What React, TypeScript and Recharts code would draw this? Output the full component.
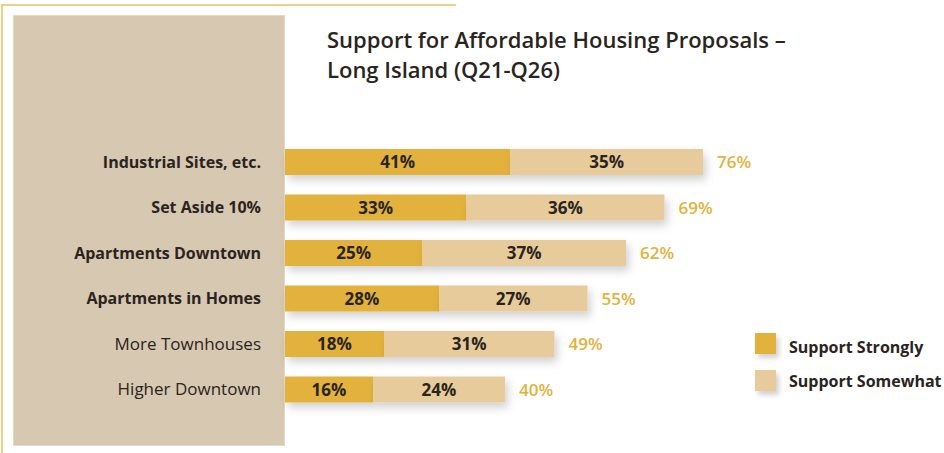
import React from "react";
import { BarChart, Bar, XAxis, YAxis, LabelList } from "recharts";

const categories = [
  "Industrial Sites, etc.",
  "Set Aside 10%",
  "Apartments Downtown",
  "Apartments in Homes",
  "More Townhouses",
  "Higher Downtown",
];
const supportStrongly = [41, 33, 25, 28, 18, 16];
const supportSomewhat = [35, 36, 37, 27, 31, 24];
const boldLabels = [true, true, true, true, false, false];

const seriesNames = ["Support Strongly", "Support Somewhat"];
const titleLines = ["Support for Affordable Housing Proposals –", "Long Island (Q21-Q26)"];

const data = categories.map((c, i) => ({
  name: c,
  strong: supportStrongly[i],
  somewhat: supportSomewhat[i],
  total: supportStrongly[i] + supportSomewhat[i],
}));

const FONT = "'Open Sans', 'Noto Sans', sans-serif";
const DARK = "#2a2420";
const GOLD = "#e2b23c";
const LIGHT = "#e8cb9b";
const seriesColors = [GOLD, LIGHT];

const CategoryTick = (props: any) => {
  const { x, y, payload, index } = props;
  const bold = boldLabels[index];
  return (
    <text
      x={x}
      y={y}
      dy={6}
      textAnchor="end"
      fontFamily={FONT}
      fontSize={bold ? 16 : 17}
      fontWeight={bold ? 700 : 400}
      fill={DARK}
    >
      {payload.value}
    </text>
  );
};

const pct = (v: any) => `${v}%`;

export default function App() {
  return (
    <div style={{ position: "absolute", left: 0, top: 0, width: 944, height: 453, background: "#fff", overflow: "hidden" }}>
      <div style={{ position: "absolute", left: 2, top: 4, width: 454, height: 2, background: "#edd08a" }} />
      <div style={{ position: "absolute", left: 1, top: 4, width: 2, height: 449, background: "#edd08a" }} />
      <div
        style={{
          position: "absolute",
          left: 13,
          top: 15,
          width: 272,
          height: 431,
          background: "#d7c8b1",
          boxSizing: "border-box",
          border: "1px solid #e4d8c6",
        }}
      />
      <div
        style={{
          position: "absolute",
          left: 327,
          top: 24,
          fontFamily: FONT,
          fontSize: 22,
          fontWeight: 600,
          lineHeight: "30px",
          color: DARK,
          whiteSpace: "nowrap",
        }}
      >
        {titleLines.map((t, i) => (
          <div key={i}>{t}</div>
        ))}
      </div>
      <div style={{ position: "absolute", left: 0, top: 0 }}>
        <BarChart
          width={944}
          height={453}
          layout="vertical"
          data={data}
          margin={{ top: 139, right: 109, bottom: 41, left: 0 }}
          barCategoryGap={0}
          barSize={26}
        >
          <defs>
            <filter id="barShadow" x="-10%" y="-40%" width="130%" height="220%">
              <feDropShadow dx="3" dy="5" stdDeviation="4" floodColor="#000" floodOpacity="0.18" />
            </filter>
          </defs>
          <XAxis type="number" domain={[0, 100]} hide />
          <YAxis
            type="category"
            dataKey="name"
            width={285}
            axisLine={false}
            tickLine={false}
            tickSize={0}
            tickMargin={24}
            tick={<CategoryTick />}
            interval={0}
          />
          <Bar
            dataKey="strong"
            name={seriesNames[0]}
            stackId="a"
            fill={GOLD}
            isAnimationActive={false}
            filter="url(#barShadow)"
          >
            <LabelList
              dataKey="strong"
              position="center"
              formatter={pct}
              fill={DARK}
              fontFamily={FONT}
              fontSize={17}
              fontWeight={700}
            />
          </Bar>
          <Bar
            dataKey="somewhat"
            name={seriesNames[1]}
            stackId="a"
            fill={LIGHT}
            isAnimationActive={false}
            filter="url(#barShadow)"
          >
            <LabelList
              dataKey="somewhat"
              position="center"
              formatter={pct}
              fill={DARK}
              fontFamily={FONT}
              fontSize={17}
              fontWeight={700}
            />
            <LabelList
              dataKey="total"
              position="right"
              offset={14}
              formatter={pct}
              fill={GOLD}
              fontFamily={FONT}
              fontSize={17}
              fontWeight={600}
            />
          </Bar>
        </BarChart>
      </div>
      <div style={{ position: "absolute", left: 755, top: 333, fontFamily: FONT }}>
        {seriesNames.map((n, i) => (
          <div key={n} style={{ display: "flex", alignItems: "center", height: 21, marginBottom: 16 }}>
            <div
              style={{
                width: 21,
                height: 21,
                background: seriesColors[i],
                boxShadow: "3px 4px 5px rgba(0,0,0,0.18)",
                marginRight: 13,
              }}
            />
            <span
              style={{
                fontSize: 16,
                fontWeight: 700,
                color: DARK,
                whiteSpace: "nowrap",
                position: "relative",
                top: i === 0 ? 3 : 0,
              }}
            >
              {n}
            </span>
          </div>
        ))}
      </div>
    </div>
  );
}
